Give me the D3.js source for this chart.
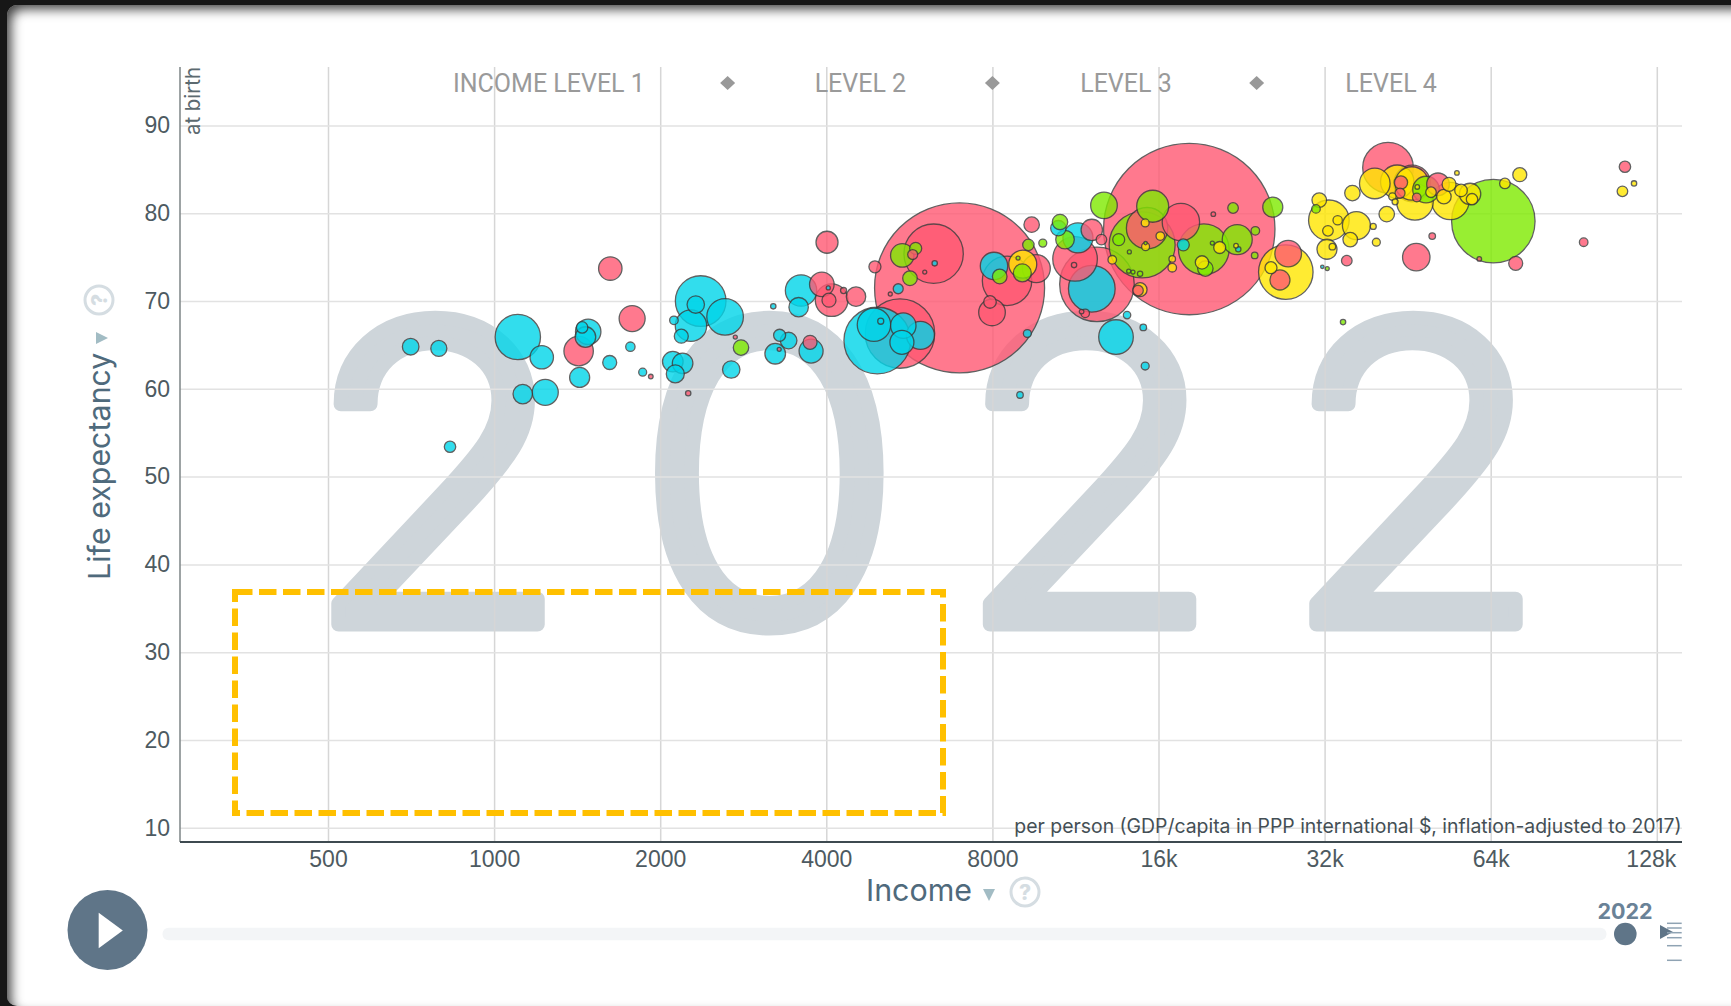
<!DOCTYPE html>
<html>
<head>
<meta charset="utf-8">
<script src="https://cdn.jsdelivr.net/npm/d3@7"></script>
<style>
    html, body { margin: 0; width: 1731px; height: 1006px; overflow: hidden; background: #171717; }
    .panel {
        position: absolute; left: 7px; top: 5px; width: 1760px; height: 1001px;
        background: #fff; border-radius: 10px;
        box-shadow: inset 6px 6px 12px -2px rgba(0,0,0,.75);
    }
    svg { position: absolute; left: 0; top: 0; font-family: Inter, Roboto, sans-serif; }
    .axis .domain { display: none; }
    .axis text { font-size: 23px; fill: #4d5a61; }
    .x-grid line { stroke: #d6d6d6; stroke-width: 1.5; }
    .y-grid line { stroke: #e2e2e2; stroke-width: 1.5; }
    .bubble { stroke: #3a3a3a; stroke-width: 1.3; opacity: .8; }
</style>
</head>
<body>
<div class="panel"></div>
<svg id="chart" width="1731" height="1006"></svg>
<script>
// Values: income per person ($), life expectancy (years), population (millions)
const africaIncome = [706,794,832,1104,1220,1127,1238,1766,1859,1620,1429,1481,1464,1444,2368,2320,2622,2274,2118,2184,2690,2108,2196,2130,3206,3232,3292,3418,3754,3600,3564,4033,5400,4948,4880,5020,5516,5924,5484,6288,8054,9256,8976,10536,11432,12112,14032,15016,15136,13400,17744,22320,31696];
const africaLife = [64.8,64.6,53.4,65.9,63.6,59.4,59.6,64.8,61.9,63.0,61.3,66.5,65.9,67.0,70.0,69.6,68.2,67.2,67.8,66.0,62.2,63.1,62.9,61.7,69.4,64.0,66.1,65.5,64.3,71.2,69.3,71.5,71.4,65.5,67.3,67.7,67.2,66.1,65.3,74.3,74.0,66.3,59.3,78.3,77.2,71.4,68.4,67.0,62.6,65.9,76.4,75.9,73.9];
const africaPop = [13.5,12.6,6.4,101,26.9,18.5,33.2,4.3,3.1,9.6,19.7,31.7,20.8,6.4,126,14.9,65.8,48.4,3.6,9.6,14.9,20.8,20.8,15.9,1.4,20.8,7.1,13.5,28.3,48.4,18.5,0.8,4.9,218,54.8,1.8,31.7,38.5,28.3,1.4,36.9,3.1,2.1,11.7,44.2,107,2.7,2.1,3.1,58.8,7.1,1.4,0.57];

const asiaIncome = [1423,1624,1779,1923,2736,2248,3286,3738,4012,3926,4090,4045,4299,4528,4900,5224,6976,6260,5736,6032,5440,8504,9608,9424,7920,7987,11296,12112,12608,11248,12376,11784,11608,14688,18192,17568,15256,20112,27488,26560,35104,41696,46112,44000,43840,47008,51360,61024,71040,46912,50144,112064,94336];
const asiaLife = [64.3,73.7,68.0,61.4,65.9,59.5,64.5,65.3,76.7,71.9,70.1,70.1,71.2,70.5,73.9,70.8,71.5,75.4,75.3,73.3,66.3,72.3,73.7,78.7,69.9,68.7,74.8,78.1,77.0,74.1,71.9,68.6,68.8,71.2,78.2,79.0,78.3,79.9,75.4,72.4,74.6,85.2,83.4,83.5,82.3,81.8,83.3,74.8,74.3,75.0,77.4,85.3,76.7];
const asiaPop = [42.5,26.9,33.2,1.04,0.79,1.4,0.79,9.6,23.8,29.7,52.2,9.6,1.8,18.5,7.1,0.79,1420,173,4.9,0.79,237,120,38.5,11.7,7.8,34.8,97.7,22.5,5.5,1.4,273,3.6,1.04,5.5,1443,68.7,84.2,1.04,34.8,19.7,5.5,126,65.8,8.8,4.9,3.6,25.1,1.04,9.6,36.9,2.1,6.4,3.6];

const americasIncome = [2802,5492,5808,5672,8248,9064,8904,9296,9872,10608,10832,12744,15616,14944,13552,14168,15160,14128,14384,14816,19328,19456,20032,22224,21840,23968,23904,25776,32352,30870,34560,48864,64704];
const americasLife = [64.7,75.2,76.0,72.6,72.8,73.2,74.9,76.4,76.6,79.0,77.0,80.9,80.8,76.4,77.0,75.6,76.6,73.4,73.3,73.1,75.9,73.7,76.6,77.0,80.6,78.0,75.2,80.7,73.7,80.5,67.6,82.7,79.1];
const americasPop = [11.7,26.9,7.1,10.5,10.5,15.9,0.79,6.4,3.1,11.7,17.0,34.8,50.3,214,7.1,0.79,0.57,0.79,0.79,1.4,126,11.7,0.79,44.2,5.5,3.6,2.1,19.7,0.79,3.6,1.4,34.8,342];

const europeIncome = [9080,14816,15136,13192,15160,16120,16944,16944,19184,20656,22112,27216,25584,32576,31296,33792,32448,36544,35616,32320,33056,39200,39712,35936,39456,43328,41472,42464,42944,46656,46048,47104,49888,54080,52640,53792,56544,58720,59200,55584,67904,72256,116400,110900];
const europeLife = [74.2,71.3,78.9,74.7,76.2,77.4,74.8,73.8,74.4,76.1,76.3,73.3,73.8,79.2,81.5,79.2,78.0,78.6,77.0,75.9,76.2,78.5,76.7,82.3,83.4,83.6,79.9,81.9,81.3,81.3,83.4,83.0,82.4,81.4,81.9,83.3,82.6,82.2,81.6,84.6,83.4,84.4,83.4,82.5];
const europePop = [38.5,9.6,3.1,3.6,3.1,3.6,2.1,3.6,8.8,7.1,1.04,146,7.1,81,10.5,4.3,5.5,38.5,10.5,19.7,2.1,1.8,3.1,11.7,46,54.8,11.7,2.7,1.8,65.8,54.8,1.04,5.5,68.7,10.5,9.6,7.8,22.5,6.4,1.04,5.5,9.6,1.4,5.5];

const regionColors = {africa: '#00d5e9', asia: '#ff5872', americas: '#7feb00', europe: '#ffe700'};

const incomeTicks = [500,1000,2000,4000,8000,16000,32000,64000,128000];
const lifeTicks = [10,20,30,40,50,60,70,80,90];
const levelLabels = ['INCOME LEVEL 1','LEVEL 2','LEVEL 3','LEVEL 4'];
const levelCenters = [1257,4612,13968,42240];
const levelBreaks = [2650,8000,24100];

const svg = d3.select('#chart');

const xScale = d3.scaleLog().base(2).domain([500,128000]).range([328,1656.8]);
const yScale = d3.scaleLinear().domain([10,90]).range([827.7,125.5]);
const sizeScale = d3.scaleSqrt().domain([0,1420]).range([0,85]);

const LEFT = 180, RIGHT = 1682, TOP = 67, BOTTOM = 842;

// Big year behind everything, stretched a bit since the digits run narrow here
svg.append('text')
    .attr('transform', 'scale(1.05,1)')
    .attr('x', '288.8 604.2 909.3 1220.2')
    .attr('y', 624.5)
    .text('2022')
    .style('font-family', 'Inter')
    .style('font-weight', 300)
    .style('font-size', '416px')
    .style('fill', '#ced5da')
    .style('stroke', '#ced5da')
    .style('stroke-width', 14)
    .style('stroke-linejoin', 'round');

// Axes with their gridlines
const xAxis = d3.axisBottom(xScale)
    .tickValues(incomeTicks)
    .tickSize(-(BOTTOM - TOP))
    .tickPadding(8.8)
    .tickFormat(d => d >= 16000 ? (d / 1000) + 'k' : d);

const xAxisGroup = svg.append('g')
    .attr('class', 'axis x-grid')
    .attr('transform', `translate(0,${BOTTOM})`)
    .call(xAxis);
xAxisGroup.selectAll('.tick').filter(d => d === 128000).select('text').attr('dx', -6);

svg.append('g')
    .attr('class', 'axis y-grid')
    .attr('transform', `translate(${LEFT},0)`)
    .call(d3.axisLeft(yScale).tickValues(lifeTicks).tickSize(-(RIGHT - LEFT)).tickPadding(10));

svg.append('line').attr('x1', LEFT).attr('x2', LEFT).attr('y1', TOP).attr('y2', BOTTOM)
    .style('stroke', '#7c8486').style('stroke-width', 1.5);
svg.append('line').attr('x1', LEFT).attr('x2', RIGHT).attr('y1', BOTTOM).attr('y2', BOTTOM)
    .style('stroke', '#3e4a50').style('stroke-width', 2);

// Income level labels along the top
svg.selectAll('.level-label')
    .data(levelLabels)
    .join('text')
    .attr('class', 'level-label')
    .attr('x', (d, i) => xScale(levelCenters[i]))
    .attr('y', 92)
    .attr('text-anchor', 'middle')
    .style('font-family', 'Roboto')
    .style('font-size', '25px')
    .style('fill', '#9a9a9a')
    .text(d => d);

svg.selectAll('.level-break')
    .data(levelBreaks)
    .join('path')
    .attr('class', 'level-break')
    .attr('transform', d => `translate(${xScale(d)},83)`)
    .attr('d', 'M-7.5,0L0,-7L7.5,0L0,7Z')
    .style('fill', '#999');

// Axis texts
svg.append('text')
    .attr('transform', 'translate(200,67) rotate(-90)')
    .attr('text-anchor', 'end')
    .style('font-size', '20.4px')
    .style('fill', '#5c6a70')
    .text('at birth');

svg.append('text')
    .attr('x', 1681.5)
    .attr('y', 833)
    .attr('text-anchor', 'end')
    .style('font-size', '19.4px')
    .style('fill', '#444f55')
    .text('per person (GDP/capita in PPP international $, inflation-adjusted to 2017)');

svg.append('text')
    .attr('transform', 'translate(110,580) rotate(-90)')
    .style('font-size', '30.4px')
    .style('fill', '#4f6a7c')
    .text('Life expectancy');

svg.append('path').attr('d', 'M96,332L108,338L96,344Z').style('fill', '#a2bcc4');

svg.append('text')
    .attr('x', 866)
    .attr('y', 901)
    .style('font-size', '30.4px')
    .style('fill', '#4f6a7c')
    .text('Income');

svg.append('path').attr('d', 'M983,889L995,889L989,901Z').style('fill', '#a2bcc4');

// Help icons
function helpIcon(x, y, angle) {
    const g = svg.append('g').attr('transform', `translate(${x},${y}) rotate(${angle})`);
    g.append('circle').attr('r', 14)
        .style('fill', 'none').style('stroke', '#d5dde2').style('stroke-width', 3);
    g.append('text').attr('y', 7.5).attr('text-anchor', 'middle')
        .style('font-size', '21px').style('font-weight', 800).style('fill', '#d5dde2')
        .text('?');
}
helpIcon(1025, 892, 0);
helpIcon(99, 300, -90);

// Bubbles, biggest first so the small ones stay on top
const bubbles = []
    .concat(africaIncome.map((d, i) => ({income: d, life: africaLife[i], pop: africaPop[i], region: 'africa'})))
    .concat(asiaIncome.map((d, i) => ({income: d, life: asiaLife[i], pop: asiaPop[i], region: 'asia'})))
    .concat(americasIncome.map((d, i) => ({income: d, life: americasLife[i], pop: americasPop[i], region: 'americas'})))
    .concat(europeIncome.map((d, i) => ({income: d, life: europeLife[i], pop: europePop[i], region: 'europe'})));
bubbles.sort((a, b) => b.pop - a.pop);

svg.selectAll('.bubble')
    .data(bubbles)
    .join('circle')
    .attr('class', 'bubble')
    .attr('cx', d => xScale(d.income))
    .attr('cy', d => yScale(d.life))
    .attr('r', d => sizeScale(d.pop))
    .style('fill', d => regionColors[d.region]);

// Dashed highlight box
svg.append('rect')
    .attr('x', 235).attr('y', 592).attr('width', 708).attr('height', 221)
    .style('fill', 'none')
    .style('stroke', '#ffc000')
    .style('stroke-width', 6)
    .style('stroke-dasharray', '17.5 6.5');

// Time slider
svg.append('circle').attr('cx', 107.5).attr('cy', 930).attr('r', 40).style('fill', '#5f7588');
svg.append('path').attr('d', 'M98.7,912.7L122.8,930.5L98.7,948.3Z').style('fill', '#fff');
svg.append('rect').attr('x', 162.5).attr('y', 927.7).attr('width', 1444).attr('height', 12.6).attr('rx', 6)
    .style('fill', '#f3f5f7');
svg.append('circle').attr('cx', 1625.3).attr('cy', 934).attr('r', 11.3).style('fill', '#5f7588');
svg.append('text')
    .attr('x', 1625).attr('y', 919)
    .attr('text-anchor', 'middle')
    .style('font-size', '21.5px').style('font-weight', 700).style('fill', '#6a8297')
    .text('2022');
svg.append('path').attr('d', 'M1660,925L1673,932L1660,939Z').style('fill', '#5f7588');
[923.3,928,932.7,937.7,945.7,960.3].forEach(y => {
    svg.append('line').attr('x1', 1667).attr('x2', 1681.7).attr('y1', y).attr('y2', y)
        .style('stroke', '#8fa3b3').style('stroke-width', 1.5);
});
</script>
</body>
</html>
